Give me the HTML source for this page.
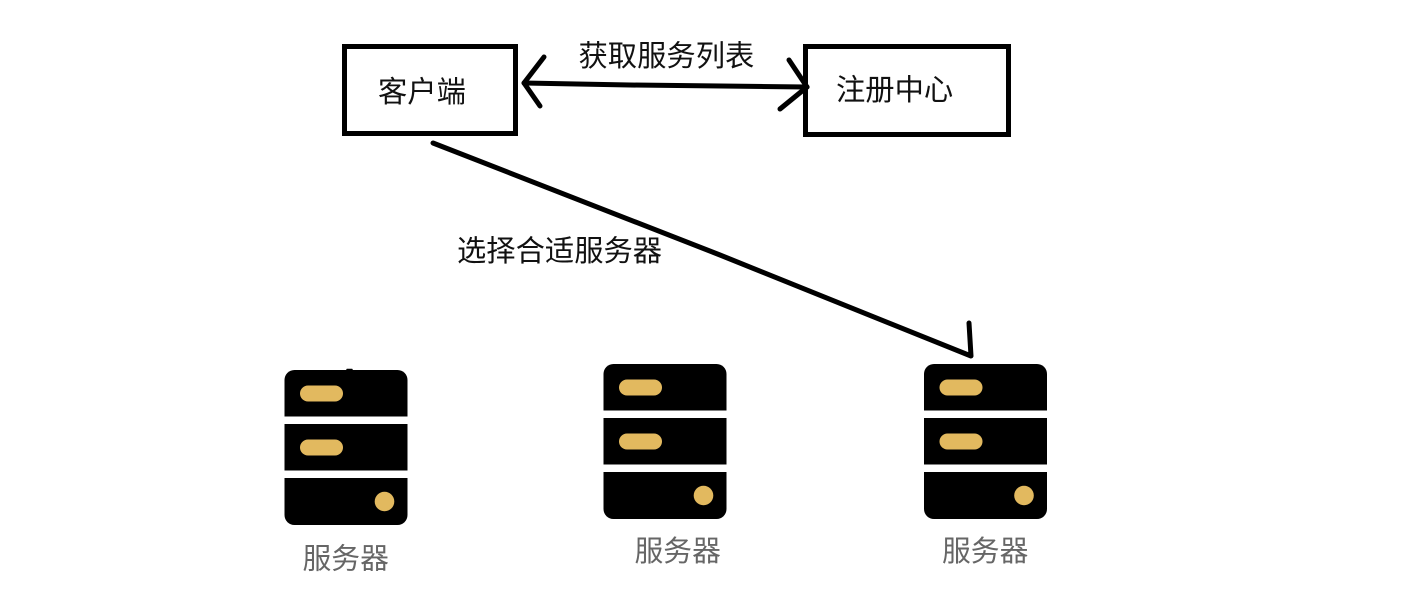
<!DOCTYPE html>
<html>
<head>
<meta charset="utf-8">
<style>
html,body{margin:0;padding:0;background:#fff;}
body{width:1428px;height:614px;overflow:hidden;}
svg{display:block;filter:blur(.35px);}
text{font-family:"Liberation Sans","Noto Sans CJK SC",sans-serif;font-size:29.300px;fill:#111;}
text.g{fill:#666;font-size:28.800px;}
</style>
</head>
<body>
<svg width="1428" height="614" viewBox="0 0 1428 614" xmlns="http://www.w3.org/2000/svg">
<defs>
<g id="srv">
<path d="M0 46.500V10a10 10 0 0 1 10-10H113a10 10 0 0 1 10 10V46.500Z" fill="#000"/>
<rect x="0" y="54" width="123" height="46.500" fill="#000"/>
<path d="M0 108H123V145a10 10 0 0 1-10 10H10a10 10 0 0 1-10-10Z" fill="#000"/>
<rect x="15.500" y="15.500" width="43" height="16" rx="8" fill="#e2b95f"/>
<rect x="15.500" y="69.500" width="43" height="16" rx="8" fill="#e2b95f"/>
<circle cx="100" cy="131.500" r="9.800" fill="#e2b95f"/>
</g>
</defs>
<rect x="344.500" y="46.500" width="171" height="87" fill="#fff" stroke="#000" stroke-width="5"/>
<rect x="805.500" y="46.500" width="203" height="88" fill="#fff" stroke="#000" stroke-width="5"/>
<text x="378" y="102">客户端</text>
<text x="836" y="100">注册中心</text>
<text x="578.500" y="66">获取服务列表</text>
<text x="457" y="261">选择合适服务器</text>
<g fill="none" stroke="#000" stroke-width="5" stroke-linecap="round" stroke-linejoin="round">
<path d="M524 83L630 85L807 87"/>
<path d="M544 57L524 83L540 106"/>
<path d="M789 60L807 87L780 109"/>
<path d="M433 143L720 255L971 356L969 323"/>
<path d="M347 369.500L352 369.500" stroke-width="1.500"/>
</g>
<use href="#srv" x="284.500" y="370"/>
<use href="#srv" x="603.500" y="364"/>
<use href="#srv" x="924" y="364"/>
<text class="g" x="302.500" y="568.500">服务器</text>
<text class="g" x="634.500" y="561">服务器</text>
<text class="g" x="942" y="561">服务器</text>
</svg>
</body>
</html>
